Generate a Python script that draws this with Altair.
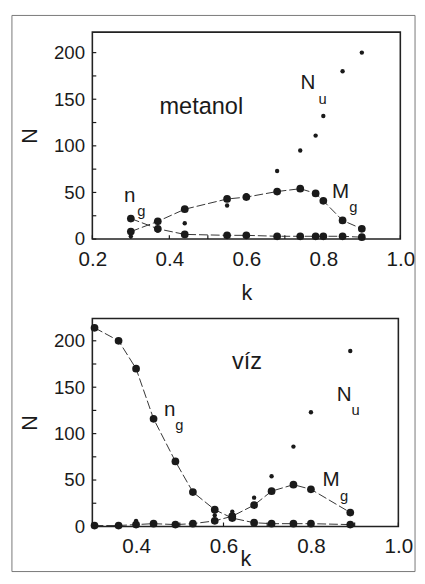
import altair as alt
import pandas as pd

# ---------------- data ----------------
# upper panel: metanol
k_met = [0.30, 0.37, 0.44, 0.55, 0.60, 0.68, 0.74, 0.78, 0.80, 0.85, 0.90]
ng_met = [22, 11, 5, 4, 4, 3, 3, 3, 3, 3, 2]
Mg_met = [8, 19, 32, 43, 45, 51, 54, 49, 41, 20, 11]
Nu_met = [3, 9, 17, 36, 47, 73, 95, 111, 132, 180, 200]

# lower panel: víz
k_viz = [0.305, 0.36, 0.40, 0.44, 0.49, 0.53, 0.58, 0.62, 0.67, 0.71, 0.76, 0.80, 0.89]
ng_viz = [214, 200, 170, 116, 70, 37, 18, 9, 4, 3, 3, 3, 2]
Mg_viz = [1, 1, 2, 3, 2, 3, 6, 11, 23, 38, 45, 40, 15]
Nu_viz = [1, 1, 6, 2, 2, 3, 12, 16, 31, 54, 86, 123, 189]

# axis ticks / labels
x_labels_met = [0.2, 0.4, 0.6, 0.8, 1.0]
x_ticks_met = [0.2, 0.3, 0.4, 0.5, 0.6, 0.7, 0.8, 0.9, 1.0]
x_labels_viz = [0.4, 0.6, 0.8, 1.0]
x_ticks_viz = [0.3, 0.4, 0.5, 0.6, 0.7, 0.8, 0.9, 1.0]
y_labels = [0, 50, 100, 150, 200]
y_ticks = [0, 25, 50, 75, 100, 125, 150, 175, 200]

# annotations (letter, subscript) in data units
ann_main_met = ["n", "M", "N"]
ann_main_met_k = [0.297, 0.845, 0.760]
ann_main_met_N = [46.5, 50.4, 167.0]
ann_sub_met = ["g", "g", "u"]
ann_sub_met_k = [0.327, 0.878, 0.798]
ann_sub_met_N = [30.5, 34.7, 150.0]
name_met = "metanol"
name_met_k, name_met_N = 0.483, 141.0

ann_main_viz = ["n", "M", "N"]
ann_main_viz_k = [0.477, 0.846, 0.876]
ann_main_viz_N = [125.5, 49.9, 141.4]
ann_sub_viz = ["g", "g", "u"]
ann_sub_viz_k = [0.499, 0.876, 0.902]
ann_sub_viz_N = [109.7, 32.3, 125.5]
name_viz = "víz"
name_viz_k, name_viz_N = 0.654, 176.5

INK = "#1a1a1a"


def panel(k, ng, Mg, Nu, xdom, ydom, xlab, xtick, main, main_k, main_N,
          sub, sub_k, sub_N, name, name_k, name_N, width, height, title_y,
          border=False):
    lines_df = pd.DataFrame({
        "k": list(k) + list(k),
        "N": list(ng) + list(Mg),
        "series": ["n_g"] * len(k) + ["M_g"] * len(k),
    })
    nu_df = pd.DataFrame({"k": k, "N": Nu})
    main_df = pd.DataFrame({"t": main, "k": main_k, "N": main_N})
    sub_df = pd.DataFrame({"t": sub, "k": sub_k, "N": sub_N})
    name_df = pd.DataFrame({"t": [name], "k": [name_k], "N": [name_N]})
    xt_df = pd.DataFrame({"k": xtick})
    yt_df = pd.DataFrame({"N": y_ticks})

    xs = alt.Scale(domain=xdom, nice=False, zero=False)
    ys = alt.Scale(domain=ydom, nice=False)

    x_main = alt.Axis(values=xlab, format=".1f", ticks=False, tickSize=0,
                      domain=False, grid=False, labelFontSize=21,
                      labelFlush=False, labelPadding=10, labelColor=INK,
                      title="k", titleFontSize=22, titleFontWeight="normal",
                      titleColor=INK, titleY=title_y, titleBaseline="middle")
    y_main = alt.Axis(values=y_labels, ticks=False, tickSize=0, domain=False,
                      grid=False, labelFontSize=19, labelPadding=8,
                      labelFlush=False, labelColor=INK, title="N",
                      titleFontSize=22, titleFontWeight="normal",
                      titleColor=INK, titleX=-64, titleBaseline="middle",
                      titleAngle=270)

    X = alt.X("k:Q", scale=xs)
    Y = alt.Y("N:Q", scale=ys)

    lines = alt.Chart(lines_df).mark_line(
        strokeDash=[9, 3], strokeWidth=1, color="#333"
    ).encode(
        x=alt.X("k:Q", scale=xs, axis=x_main),
        y=alt.Y("N:Q", scale=ys, axis=y_main),
        detail="series:N",
    )
    big = alt.Chart(lines_df).mark_circle(size=62, opacity=1, color=INK).encode(
        x=X, y=Y)
    small = alt.Chart(nu_df).mark_circle(size=20, opacity=1, color=INK).encode(
        x=X, y=Y)
    t_main = alt.Chart(main_df).mark_text(
        fontSize=21, color=INK, align="center", baseline="middle"
    ).encode(x=X, y=Y, text="t:N")
    t_sub = alt.Chart(sub_df).mark_text(
        fontSize=15, color=INK, align="center", baseline="middle"
    ).encode(x=X, y=Y, text="t:N")
    t_name = alt.Chart(name_df).mark_text(
        fontSize=24, color=INK, align="center", baseline="middle"
    ).encode(x=X, y=Y, text="t:N")
    # inward tick marks on the bottom and left frame edges
    xticks = alt.Chart(xt_df).mark_rule(color=INK, strokeWidth=1.2).encode(
        x=X, y=alt.value(height), y2=alt.value(height - 4))
    yticks = alt.Chart(yt_df).mark_rule(color=INK, strokeWidth=1.2).encode(
        y=Y, x=alt.value(0), x2=alt.value(4))

    layers = [lines, big, small, t_main, t_sub, t_name, xticks, yticks]
    if border:
        frame = alt.Chart(pd.DataFrame({"a": [0]})).mark_rect(
            fillOpacity=0, stroke="#777", strokeWidth=1
        ).encode(
            x=alt.value(-82), x2=alt.value(329),
            y=alt.value(-17), y2=alt.value(550),
        )
        layers.append(frame)
    return alt.layer(*layers).properties(width=width, height=height)


top = panel(k_met, ng_met, Mg_met, Nu_met, [0.2, 1.0], [0, 222],
            x_labels_met, x_ticks_met, ann_main_met, ann_main_met_k,
            ann_main_met_N, ann_sub_met, ann_sub_met_k, ann_sub_met_N,
            name_met, name_met_k, name_met_N, 314, 211, 55, border=True)
bottom = panel(k_viz, ng_viz, Mg_viz, Nu_viz, [0.3, 1.0], [0, 224],
               x_labels_viz, x_ticks_viz, ann_main_viz, ann_main_viz_k,
               ann_main_viz_N, ann_sub_viz, ann_sub_viz_k, ann_sub_viz_N,
               name_viz, name_viz_k, name_viz_N, 312, 212, 33)

chart = alt.vconcat(top, bottom, spacing=81, bounds="flush").properties(
    padding={"left": 2, "top": 0, "right": 0, "bottom": 0},
    background="white",
).configure(font="Liberation Sans").configure_view(
    stroke="#222", strokeWidth=1.6
)

chart.save("out.html", embed_options={"renderer": "svg", "actions": False})
